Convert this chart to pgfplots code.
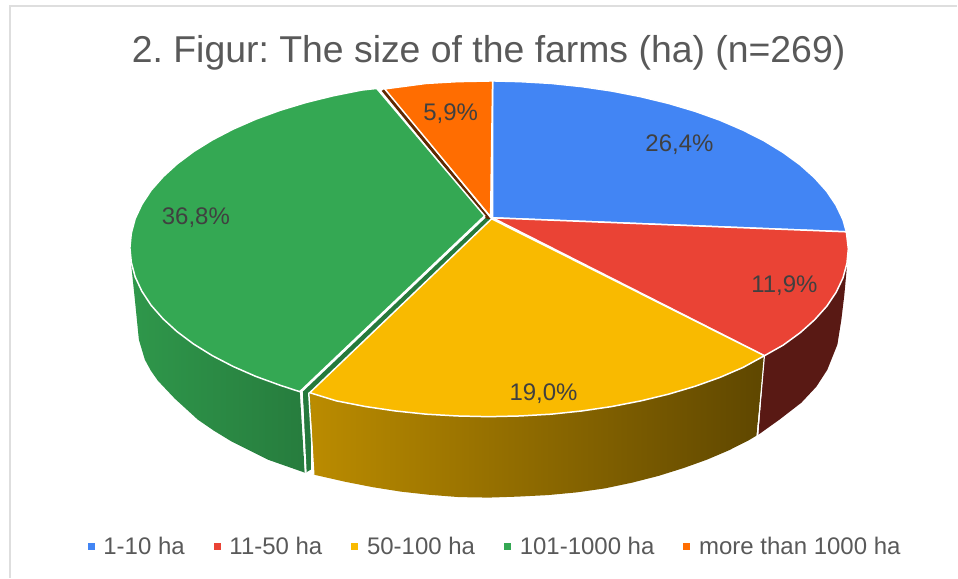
\documentclass[border=0pt]{standalone}
\usepackage{fontspec}
\setmainfont{Liberation Sans}
\usepackage{pgfplots}
\pgfplotsset{compat=1.18}
\definecolor{cBlue}{HTML}{4285F4}
\definecolor{cRed}{HTML}{EA4335}
\definecolor{cYellow}{HTML}{F9BA00}
\definecolor{cGreen}{HTML}{34A853}
\definecolor{cOrange}{HTML}{FF6D01}
\definecolor{frameGray}{HTML}{DEDEDE}
\definecolor{txtGray}{HTML}{595959}
\definecolor{lblGray}{HTML}{404040}
\begin{document}
\frenchspacing
\begin{tikzpicture}
\begin{axis}[
  scale only axis, width=958pt, height=578pt,
  % picture coordinates: y counted from the top
  y coord trafo/.code={\pgfmathparse{578-#1}},
  xmin=0, xmax=958, ymin=578, ymax=0,
  hide axis, clip=false,
  title={\fontsize{37.4}{40}\selectfont\color{txtGray}2. Figur: The size of the farms (ha) (n=269)},
  title style={at={(axis description cs:0.5104,0.898)}, anchor=center, inner sep=0pt},
  legend columns=5,
  legend cell align=left,
  legend image code/.code={\fill[#1,draw=none] (0,-3.5pt) rectangle (7pt,3.5pt); \path (13pt,0);},
  legend style={at={(axis description cs:0.5172,0.054)}, anchor=center, draw=none, fill=none,
    font=\fontsize{24}{26}\selectfont\color{txtGray},
    /tikz/every even column/.append style={column sep=27pt}},
]
\path (axis cs:0,0) rectangle (axis cs:958,578);
% frame
\addplot[forget plot, frameGray, line width=1.5pt] coordinates {(10,578) (10,6) (958,6)};
% side walls
\addplot[forget plot, draw=none, left color=cGreen!90!black, right color=cGreen!74!black] coordinates {
  (305,473) (268,460) (232,442) (214,431) (198,420) (175,399) (158,381) (151,371) (145,360)
  (139,340) (137,320) (135,300) (131,262) (300,392)} --cycle;
\addplot[forget plot, fill=cGreen!72!black, draw=none] coordinates {
  (303,392) (486,218) (491,219) (311,393) (311,470) (306,473)} --cycle;
\addplot[forget plot, left color=cYellow!75!black, right color=cYellow!38!black, draw=none] coordinates {
  (310,393) (314,475) (345.2,482.1) (372.7,487.5) (401,492) (429.8,495.2) (459.4,497.5) (489,498)
  (518.6,497) (548.2,495.5) (577,492.8) (605.3,488.8) (632.8,483) (659,476.3) (684.2,468.4)
  (707.6,460) (729.4,450.7) (749.4,440.6) (757,436) (765,356)} --cycle;
\addplot[forget plot, fill=cRed!38!black, draw=none] coordinates {
  (765,356) (759,435) (780,420) (802,403) (817,387) (828,370) (838,345) (842,320) (845,295) (847,273) (849,249)} --cycle;
\addplot[forget plot, fill=cOrange!38!black, draw=none] coordinates {
  (382,91) (487,219) (491,219) (385,89)} --cycle;
% white seams on the walls
\addplot[forget plot, white, line width=1.8pt] coordinates {(302,392) (306,473)};
\addplot[forget plot, white, line width=1.5pt] coordinates {(309,393) (314,475)};
\addplot[forget plot, white, line width=1.2pt] coordinates {(765,356) (758,436)};
% top faces
\addplot[fill=cBlue, draw=white, line width=1.5pt] coordinates {
  (493,218) (493,81) (520.3,81.7) (551.6,83.5) (582.2,86.7) (612.1,91.1) (641.3,96.8) (669,103.5)
  (695.6,111.4) (720.5,120.3) (743.5,130.2) (764.8,141) (783.8,152.6) (800.8,165) (815.2,177.9)
  (827.4,191.5) (836.8,205.5) (843.6,219.8) (847,232)} --cycle;
\addlegendentry{1-10 ha}
\addplot[fill=cRed, draw=white, line width=1.5pt] coordinates {
  (493,218) (847,232) (849,249) (847.6,263.6) (843.6,278.2) (836.8,292.5) (827.4,306.5)
  (815.2,320.1) (800.8,333) (783.8,345.4) (765,356)} --cycle;
\addlegendentry{11-50 ha}
\addplot[fill=cYellow, draw=white, line width=1.5pt] coordinates {
  (492,219) (765,356) (743.5,367.8) (720.5,377.7) (695.6,386.6) (669,394.5) (641.3,401.2)
  (612.1,406.9) (582.2,411.3) (551.6,414.5) (520.3,416.3) (489,417) (457.7,416.3) (426.4,414.5)
  (395.8,411.3) (365.9,406.9) (336.7,401.2) (310,393)} --cycle;
\addlegendentry{50-100 ha}
\addplot[fill=cGreen, draw=white, line width=1.5pt] coordinates {
  (485,216) (300,392) (280.4,385.6) (256,376.7) (233.4,366.8) (212.6,356) (193.9,344.4) (177.3,332)
  (163.2,319.1) (151.2,305.5) (142,291.5) (135.3,277.2) (131.4,262.6) (130,248) (131.4,233.4)
  (135.3,218.8) (142,204.5) (151.2,190.5) (163.2,176.9) (177.3,164) (193.9,151.6) (212.6,140)
  (233.4,129.2) (256,119.3) (280.4,110.4) (306.5,102.5) (333.7,95.8) (362.3,90.1) (377,88.5)} --cycle;
\addlegendentry{101-1000 ha}
\addplot[fill=cOrange, draw=white, line width=1.5pt] coordinates {
  (491,217) (385,89) (426.4,83.5) (457.7,81.7) (493,81)} --cycle;
\addlegendentry{more than 1000 ha}
% slice labels
\begin{scope}[every node/.style={font=\fontsize{24}{26}\selectfont, text=lblGray, inner sep=0pt}]
\node at (axis cs:680,145) {26,4\%};
\node at (axis cs:785,286) {11,9\%};
\node at (axis cs:544,394) {19,0\%};
\node at (axis cs:196,218) {36,8\%};
\node at (axis cs:451,114) {5,9\%};
\end{scope}
\end{axis}
\end{tikzpicture}
\end{document}
